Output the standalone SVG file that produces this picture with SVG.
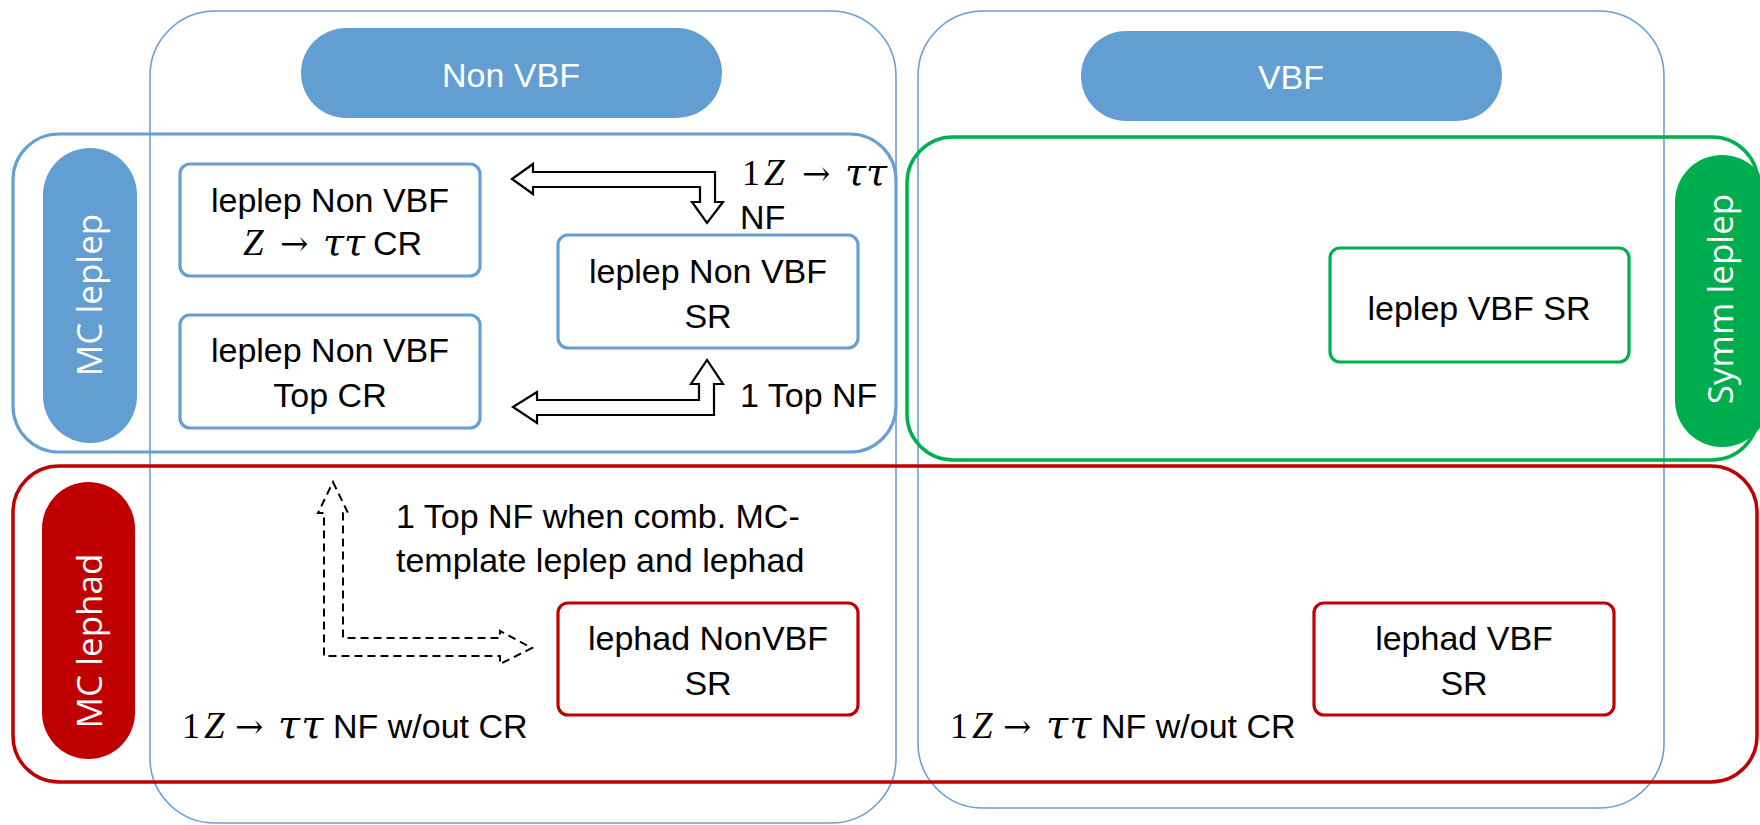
<svg xmlns="http://www.w3.org/2000/svg" width="1760" height="825" viewBox="0 0 1760 825">
<style>
.col{fill:none;stroke:#6a9fd6;stroke-width:1.6}
.bluebox{fill:none;stroke:#659fd4;stroke-width:3.2}
.node{fill:#fff;stroke-width:3.2}
.nb{stroke:#659fd4}
.ng{stroke:#00b050}
.nr{stroke:#c00000}
.grn{fill:none;stroke:#00b050;stroke-width:3.5}
.red{fill:none;stroke:#c00000;stroke-width:3.5}
.pb{fill:#639ed2}
.pg{fill:#00ad4e}
.pr{fill:#c00000}
.t{font-family:"Liberation Sans",Arial,sans-serif;font-size:34px;fill:#000}
.c{text-anchor:middle}
.w{fill:#fff}
.v{font-family:"Open Sans","DejaVu Sans",sans-serif;font-size:35px;fill:#fff;text-anchor:middle}
.m{font-family:"Liberation Serif","Times New Roman",serif;font-style:italic;font-size:37px;fill:#000}
.mt{font-family:"DejaVu Serif","Liberation Serif",serif;font-style:italic;font-size:38px;fill:#000}
.mtb{font-size:40px;letter-spacing:1px}
.mr{font-family:"Liberation Serif","Times New Roman",serif;font-size:36px;fill:#000}
.ma{font-family:"DejaVu Serif","Liberation Serif",serif;font-size:34px;fill:#000}
.arr{fill:#fff;stroke:#000;stroke-width:2.2;stroke-linejoin:miter}
.dash{fill:none;stroke:#000;stroke-width:2;stroke-dasharray:8 5}
</style>
<rect width="1760" height="825" fill="#fff"/>
<g id="col-nonvbf">
<rect class="col" x="150" y="11" width="746" height="812" rx="65"/>
<rect class="pb" x="301" y="28" width="421" height="90" rx="45"/>
<text class="t c w" x="511" y="87" font-size="36">Non VBF</text>
</g>
<g id="col-vbf">
<rect class="col" x="918" y="11" width="746" height="797" rx="65"/>
<rect class="pb" x="1081" y="31" width="421" height="90" rx="45"/>
<text class="t c w" x="1291" y="89" font-size="36">VBF</text>
</g>
<g id="mc-leplep">
<rect class="bluebox" x="13" y="134" width="883" height="318" rx="46"/>
<rect class="pb" x="43" y="148" width="94" height="295" rx="47"/>
<text class="v" transform="translate(102,295) rotate(-90)">MC leplep</text>
</g>
<g id="symm-leplep">
<rect class="grn" x="907" y="137" width="851" height="323" rx="46"/>
<rect class="pg" x="1675" y="155" width="94" height="292" rx="47"/>
<text class="v" transform="translate(1733,299) rotate(-90)">Symm leplep</text>
</g>
<g id="mc-lephad">
<rect class="red" x="13" y="466" width="1744" height="316" rx="46"/>
<rect class="pr" x="42" y="482" width="93" height="277" rx="46.5"/>
<text class="v" transform="translate(102,641) rotate(-90)">MC lephad</text>
</g>
<g id="leplep-nonvbf-ztt-cr">
<rect class="node nb" x="180" y="164" width="300" height="112" rx="10"/>
<text class="t c" x="330" y="212">leplep Non VBF</text>
<text class="m" x="243" y="255">Z</text>
<text class="ma" x="280" y="255">→</text>
<text class="mt" x="323" y="255">ττ</text>
<text class="t" x="373" y="255">CR</text>
</g>
<g id="leplep-nonvbf-top-cr">
<rect class="node nb" x="180" y="315" width="300" height="113" rx="10"/>
<text class="t c" x="330" y="362">leplep Non VBF</text>
<text class="t c" x="330" y="407">Top CR</text>
</g>
<g id="leplep-nonvbf-sr">
<rect class="node nb" x="558" y="235" width="300" height="113" rx="10"/>
<text class="t c" x="708" y="283">leplep Non VBF</text>
<text class="t c" x="708" y="328">SR</text>
</g>
<g id="leplep-vbf-sr">
<rect class="node ng" x="1330" y="248" width="299" height="114" rx="10"/>
<text class="t c" x="1479" y="320">leplep VBF SR</text>
</g>
<g id="lephad-nonvbf-sr">
<rect class="node nr" x="558" y="603" width="300" height="112" rx="10"/>
<text class="t c" x="708" y="650">lephad NonVBF</text>
<text class="t c" x="708" y="695">SR</text>
</g>
<g id="lephad-vbf-sr">
<rect class="node nr" x="1314" y="603" width="300" height="112" rx="10"/>
<text class="t c" x="1464" y="650">lephad VBF</text>
<text class="t c" x="1464" y="695">SR</text>
</g>
<g id="connectors">
<path class="arr" d="M512,179 L533,164 L533,172 L715,172 L715,202 L723,202 L707,223 L692,202 L700,202 L700,187 L533,187 L533,194 Z"/>
<path class="arr" d="M513,407 L537,392 L537,400 L699,400 L699,384 L691,384 L707,360 L723,384 L714,384 L714,415 L537,415 L537,423 Z"/>
<path class="dash" d="M333,482 L348,513 L343,513 L343,638 L500,638 L500,631 L532,648 L500,664 L500,656 L324,656 L324,513 L318,513 Z"/>
</g>
<g id="label-ztt-nf">
<text class="mr" x="742" y="185">1</text>
<text class="m" x="764" y="185">Z</text>
<text class="ma" x="802" y="185">→</text>
<text class="mt" x="845" y="185">ττ</text>
<text class="t" x="740" y="229">NF</text>
</g>
<g id="label-top-nf">
<text class="t" x="740" y="407">1 Top NF</text>
</g>
<g id="label-comb">
<text class="t" x="396" y="528">1 Top NF when comb. MC-</text>
<text class="t" x="396" y="572">template leplep and lephad</text>
</g>
<g id="label-nonvbf-ztt">
<text class="mr" x="182" y="738">1</text>
<text class="m" x="204" y="738">Z</text>
<text class="ma" x="235" y="738">→</text>
<text class="mt mtb" x="278" y="738">ττ</text>
<text class="t" x="333" y="738">NF w/out CR</text>
</g>
<g id="label-vbf-ztt">
<text class="mr" x="950" y="738">1</text>
<text class="m" x="972" y="738">Z</text>
<text class="ma" x="1003" y="738">→</text>
<text class="mt mtb" x="1046" y="738">ττ</text>
<text class="t" x="1101" y="738">NF w/out CR</text>
</g>
</svg>
